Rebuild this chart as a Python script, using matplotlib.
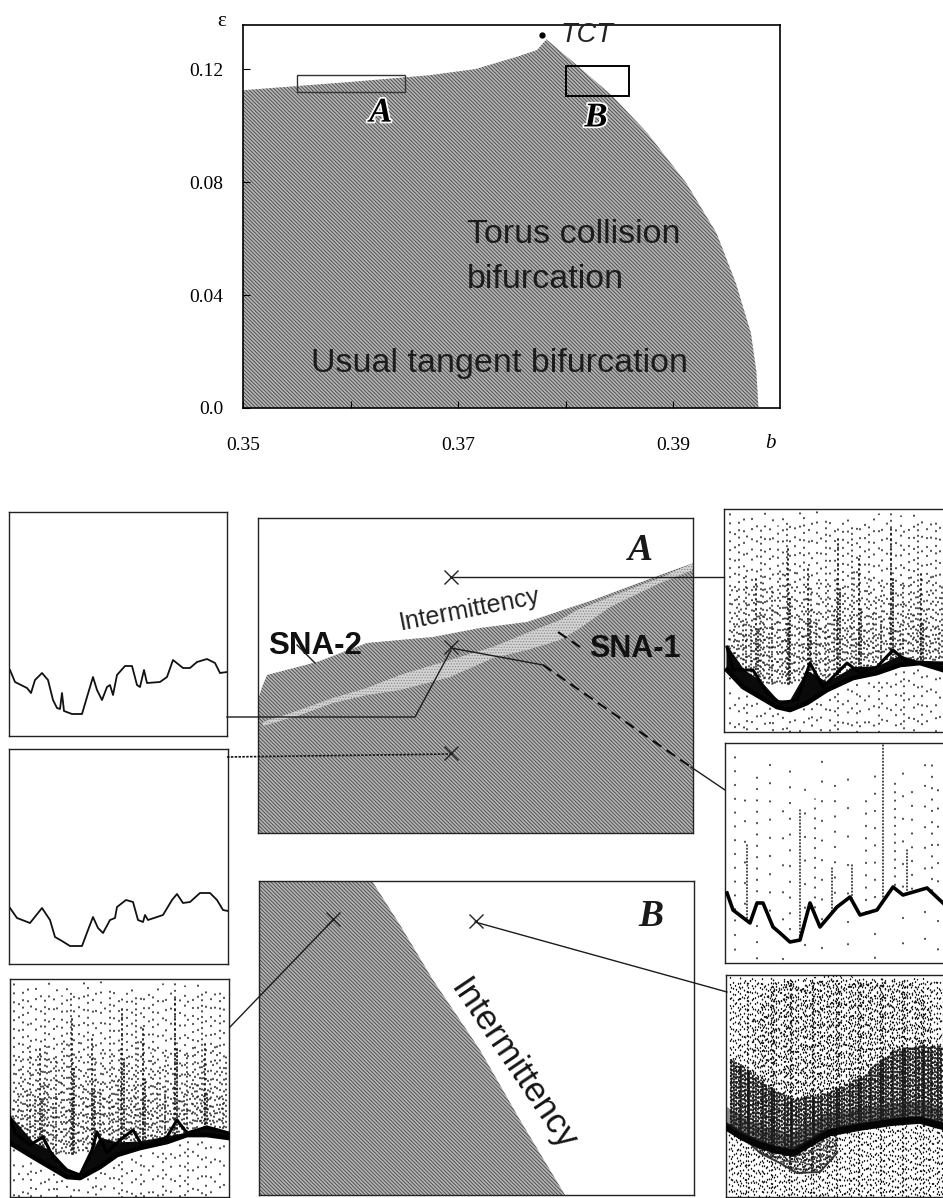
import numpy as np
import matplotlib
matplotlib.use("Agg")
import matplotlib.pyplot as plt
import matplotlib.patheffects as pe
from matplotlib.patches import Rectangle

plt.rcParams['font.family'] = ['Liberation Sans', 'DejaVu Sans']
plt.rcParams['hatch.linewidth'] = 0.6

W, H = 943, 1198

# top diagram: boundary of the grey region
bound_b = [.35, .3602, .3673, .3716, .3755, .3773, .3782, .3812, .3844, .3876, .3912, .3940, .3958, .3972, .3977, .3979]
bound_eps = [.1125, .1155, .1178, .1200, .1244, .1267, .1305, .1208, .1102, .0972, .0796, .0619, .0442, .0265, .0130, 0]
tct = (.3778, .1322)
rect_a = (.3550, .1119, .0101, .0060)
rect_b = (.3800, .1105, .0059, .0106)

# panel A (picture pixels)
a_top_x = [258, 262, 267, 317, 367, 433, 480, 527, 593, 660, 693]
a_top_y = [700, 687, 675, 662, 643, 637, 628, 622, 600, 575, 563]
a_light_x = [263, 300, 333, 367, 400, 450, 493, 527, 560, 577, 610, 660, 693]
a_light_hi = [722, 710, 698, 688, 675, 660, 647, 633, 620, 610, 597, 578, 563]
a_light_lo = [726, 715, 703, 695, 690, 677, 658, 650, 640, 630, 607, 583, 570]

# panel B
b_edge_x = [372, 400, 433, 480, 520, 565]
b_edge_y = [881, 925, 980, 1050, 1120, 1195]

# left curves
l1_x = [10, 15, 27, 31, 35, 42, 48, 53, 57, 60, 62, 64, 72, 82, 87, 93, 97, 102, 107, 110, 113, 117, 125, 132, 137, 140, 144, 147, 160, 167, 173, 183, 190, 197, 207, 215, 220, 227]
l1_y = [670, 682, 688, 693, 680, 673, 680, 700, 708, 709, 693, 711, 714, 714, 697, 677, 690, 700, 687, 685, 695, 675, 666, 666, 685, 687, 670, 683, 682, 677, 660, 668, 668, 662, 659, 663, 673, 672]
l2_x = [10, 17, 30, 42, 50, 55, 62, 70, 82, 88, 93, 98, 103, 110, 115, 117, 126, 133, 138, 143, 145, 148, 163, 172, 177, 183, 190, 200, 210, 217, 223, 228]
l2_y = [908, 918, 923, 908, 920, 937, 941, 946, 946, 930, 917, 928, 933, 920, 918, 907, 900, 902, 920, 922, 915, 920, 915, 900, 894, 903, 902, 893, 893, 900, 910, 911]
l3_lo_x = [10, 33, 50, 67, 80, 100, 117, 140, 167, 187, 207, 229]
l3_lo_y = [1143, 1157, 1167, 1177, 1178, 1167, 1155, 1148, 1142, 1135, 1135, 1138]
l3_hi_x = [10, 15, 30, 43, 53, 67, 80, 92, 97, 107, 120, 133, 143, 167, 177, 187, 207, 229]
l3_hi_y = [1117, 1133, 1145, 1137, 1157, 1170, 1175, 1150, 1132, 1153, 1140, 1130, 1147, 1137, 1120, 1133, 1127, 1133]

# right curves
r1_lo_x = [727, 743, 760, 777, 790, 807, 827, 853, 877, 900, 920, 943]
r1_lo_y = [670, 687, 697, 707, 710, 703, 690, 678, 673, 665, 663, 670]
r1_hi_x = [727, 733, 753, 767, 780, 797, 810, 823, 847, 860, 877, 893, 907, 943]
r1_hi_y = [647, 670, 670, 693, 703, 700, 663, 687, 663, 673, 667, 650, 662, 663]
r2_x = [727, 733, 750, 757, 763, 773, 780, 790, 800, 810, 820, 837, 850, 860, 877, 893, 903, 927, 943]
r2_y = [893, 910, 923, 903, 903, 927, 933, 942, 940, 903, 927, 907, 897, 915, 910, 887, 895, 888, 903]
r3_x = [727, 743, 760, 777, 793, 827, 860, 893, 920, 946]
r3_hi = [1057, 1067, 1080, 1092, 1100, 1093, 1077, 1050, 1045, 1047]
r3_lo = [1127, 1137, 1145, 1150, 1153, 1133, 1127, 1122, 1120, 1127]
r3_lobe_x = [743, 760, 780, 797, 820, 837]
r3_lobe_y = [1137, 1153, 1163, 1173, 1172, 1153]
r3_dome_x = [757, 770, 827, 910, 927]
r3_dome_y = [1013, 983, 975, 980, 1003]

# scatter stripes, offset from panel's left edge
stripe_off = [4, 9, 13, 18, 21, 26, 31, 35, 39, 44, 47, 52, 57, 61, 64, 69, 74, 78, 83, 86, 91, 95, 100, 104, 109, 112, 117, 122, 126, 131, 134, 139, 143, 148, 153, 156, 161, 165, 170, 175, 178, 183, 188, 192, 196, 201, 205, 210, 214]
stripe_gaps = [5.3, 8.1, 4.3, 7.1, 10.7, 6.1, 9.3, 3.7, 7.7, 5.9, 11.3, 4.7, 6.7, 3.1, 8.9]
stripe_start = [3, 11, 7, 1, 14, 5, 9, 17, 2, 12, 6, 15, 4, 10, 8, 13, 0]
dark_off = [30, 62, 82, 112, 133, 165, 195]
dark_top = [70, 40, 60, 30, 50, 20, 65]
r2_dark_x = [747, 800, 832, 852, 883, 907]
r2_dark_top = [845, 810, 868, 865, 745, 850]
r2_sparse_x = [735, 745, 757, 770, 783, 790, 805, 815, 822, 835, 848, 866, 875, 895, 903, 912, 925, 932, 938]
r3_shift = [0, 1.4, 2.8]

# leader lines and crosses, picture pixels
cross_x = [451, 451, 451, 333, 476]
cross_y = [577, 647, 753, 919, 921]
lead_solid = [([451, 724], [577, 577]), ([227, 415, 451], [717, 717, 650]),
              ([691, 725], [767, 790]), ([297, 315], [645, 663]),
              ([333, 230], [920, 1027]), ([475, 727], [922, 992]), ([451, 543], [648, 665])]
lead_dot = [([227, 451], [757, 754])]
lead_dash = [([543, 691], [665, 767]), ([558, 580], [632, 647])]

HATCH_FC = '#b4b4b4'
HATCH_EC = '#444444'
HATCH = '\\' * 9

fig = plt.figure(figsize=(W / 100, H / 100), dpi=100)


def panel(x0, x1, y0, y1):
    ax = fig.add_axes([x0 / W, 1 - y1 / H, (x1 - x0) / W, (y1 - y0) / H])
    ax.set_xlim(x0, x1)
    ax.set_ylim(y1, y0)
    ax.set_xticks([])
    ax.set_yticks([])
    for s in ax.spines.values():
        s.set_linewidth(1.0)
        s.set_color('#222222')
    return ax


def stipple(ax, x, y0, y1, gap, lw=1.1, off=0, z=1):
    ax.plot([x, x], [y0, y1], color='#151515', lw=lw, zorder=z,
            ls=(off, (0.55, gap)), dash_capstyle='round')


def scatter_panel(ax, x0, top, lo_x, lo_y, hi_x, hi_y, bottom):
    xs = [x0 + o for o in stripe_off]
    n, m = len(stripe_gaps), len(stripe_start)
    for i, x in enumerate(xs):
        g = stripe_gaps[i % n]
        stipple(ax, x, top + 2 + stripe_start[i % m], top + 175, g, off=i)
        stipple(ax, x + 2, top + 60 + 2 * stripe_start[(i + 5) % m], top + 175, stripe_gaps[(i + 4) % n] * 0.8, off=i + 2)
        stipple(ax, x - 1.5, top + 100 + 2 * stripe_start[(i + 9) % m], top + 175, stripe_gaps[(i + 8) % n] * 0.55, off=i + 1)
    for o, t in zip(dark_off, dark_top):
        stipple(ax, x0 + o, top + t, top + 175, 2.2, lw=1.3)
        stipple(ax, x0 + o + 2, top + t + 50, top + 175, 1.6, lw=1.2)
    ax.fill_between(lo_x, lo_y, bottom, color='white', zorder=2)
    ax.fill_between(lo_x, lo_y, np.interp(lo_x, hi_x, hi_y), color='#0a0a0a', lw=1.5, zorder=3)
    ax.plot(lo_x, lo_y, color='black', lw=3.4, zorder=3)
    ax.plot(hi_x, hi_y, color='black', lw=2.2, zorder=3)
    for i, x in enumerate(xs):
        y = np.interp(x, lo_x, lo_y) + 5
        stipple(ax, x, y, bottom, stripe_gaps[(i + 3) % n] * 1.3, off=i, z=4)


# top diagram
ax = fig.add_axes([243 / W, 1 - 408 / H, 537 / W, 383 / H])
ax.set_xlim(.35, .3999)
ax.set_ylim(0, .1356)
ax.fill_between(bound_b, bound_eps, 0, facecolor=HATCH_FC, edgecolor=HATCH_EC, hatch=HATCH, linewidth=0)
ax.plot(*tct, 'o', color='black', ms=3.5)
ax.text(.3795, .1320, 'TCT', style='italic', fontsize=19.5, va='center', color='#222222')
ax.add_patch(Rectangle(rect_a[:2], rect_a[2], rect_a[3], fill=False, ec='#333333', lw=1))
ax.add_patch(Rectangle(rect_b[:2], rect_b[2], rect_b[3], fill=False, ec='black', lw=1.4))
halo = [pe.withStroke(linewidth=2.5, foreground='white')]
serif = ['Liberation Serif', 'DejaVu Serif']
ax.text(.3628, .1044, 'A', family=serif, style='italic', weight='bold', fontsize=25, ha='center', va='center', path_effects=halo)
ax.text(.3828, .1027, 'B', family=serif, style='italic', weight='bold', fontsize=25, ha='center', va='center', path_effects=halo)
ax.text(.3708, .0615, 'Torus collision', fontsize=24.5, va='center', color='#1c1c1c')
ax.text(.3708, .0455, 'bifurcation', fontsize=24.5, va='center', color='#1c1c1c')
ax.text(.3563, .0158, 'Usual tangent bifurcation', fontsize=24.5, va='center', color='#1c1c1c')
ax.set_xticks([.35, .36, .37, .38, .39])
ax.set_xticklabels(['0.35', '', '0.37', '', '0.39'], family=serif, fontsize=14)
ax.set_yticks([0, .04, .08, .12])
ax.set_yticklabels(['0.0', '0.04', '0.08', '0.12'], family=serif, fontsize=14)
ax.tick_params(axis='x', direction='in', length=5, pad=21)
ax.tick_params(axis='y', direction='in', length=5, pad=14)
for s in ax.spines.values():
    s.set_linewidth(1.2)

# left column
for (x0, x1, y0, y1), cx, cy in [((9, 227, 512, 736), l1_x, l1_y), ((9, 228, 749, 964), l2_x, l2_y)]:
    a = panel(x0, x1, y0, y1)
    a.plot(cx, cy, color='#111111', lw=1.3)
a = panel(10, 229, 979, 1197)
scatter_panel(a, 10, 979, l3_lo_x, l3_lo_y, l3_hi_x, l3_hi_y, 1197)

# panel A
a = panel(258, 693, 518, 833)
a.fill_between(a_top_x, a_top_y, 833, facecolor=HATCH_FC, edgecolor=HATCH_EC, hatch=HATCH, linewidth=0)
a.fill_between(a_light_x, a_light_hi, a_light_lo, facecolor='#d4d4d4', edgecolor='#8a8a8a', hatch='.' * 6, linewidth=0)
a.text(640, 550, 'A', family=serif, style='italic', weight='bold', fontsize=27, ha='center', va='center', color='#1a1a1a')
a.text(268, 646, 'SNA-2', weight='bold', fontsize=22.5, va='center', color='#111111')
a.text(589, 649, 'SNA-1', weight='bold', fontsize=22, va='center', color='#111111')
a.text(470, 610, 'Intermittency', fontsize=18, rotation=11, rotation_mode='anchor', ha='center', va='center', color='#222222')

# panel B
a = panel(259, 694, 881, 1195)
a.fill_betweenx(b_edge_y, 259, b_edge_x, facecolor=HATCH_FC, edgecolor=HATCH_EC, hatch=HATCH, linewidth=0)
a.text(651, 917, 'B', family=serif, style='italic', weight='bold', fontsize=27, ha='center', va='center', color='#1a1a1a')
a.text(513, 1065, 'Intermittency', fontsize=25, rotation=-56, rotation_mode='anchor', ha='center', va='center', color='#151515')

# right column
a = panel(724, 946, 509, 732)
scatter_panel(a, 726, 509, r1_lo_x, r1_lo_y, r1_hi_x, r1_hi_y, 732)

a = panel(725, 946, 743, 963)
n = len(stripe_gaps)
for i, x in enumerate(r2_sparse_x):
    stipple(a, x, 748 + stripe_start[i % len(stripe_start)] * 3, 960, stripe_gaps[i % n] * 1.6, off=i)
for x, t in zip(r2_dark_x, r2_dark_top):
    stipple(a, x, t, 958, 1.6)
a.fill_between(r2_x, r2_y, 962, color='white', zorder=2)
a.plot(r2_x, r2_y, color='black', lw=2.6, zorder=3)
for i, x in enumerate(r2_sparse_x[::2]):
    stipple(a, x, np.interp(x, r2_x, r2_y) + 8, 961, 9 + i, off=i, z=4)

# dense panel: stippling built from the same stripes, heavier inside the band
a = panel(726, 946, 975, 1197)
xs = [726 + o + s for o in stripe_off for s in r3_shift]
for i, x in enumerate(xs):
    g = stripe_gaps[i % n]
    lo = np.interp(x, r3_x, r3_lo)
    hi = np.interp(x, r3_x, r3_hi)
    stipple(a, x, 977 + i % 7, lo, g * 0.85, off=i, lw=1.0)
    stipple(a, x + 0.7, hi, lo, g * 0.22, off=i + 3, lw=1.3)
    stipple(a, x - 0.7, lo, 1196, g * 0.85, off=i + 1, lw=1.0)
    if 750 < x < 930:
        stipple(a, x + 0.5, np.interp(x, r3_dome_x, r3_dome_y), hi, g * 1.3, off=i + 2, lw=1.0)
    if 743 < x < 837:
        stipple(a, x, lo, np.interp(x, r3_lobe_x, r3_lobe_y), g * 0.4, off=i, lw=1.1)
a.plot(r3_lobe_x, r3_lobe_y, color='#333333', lw=1.4, zorder=3)
a.plot(r3_x, r3_lo, color='#050505', lw=5.5, zorder=3)
a.plot(r3_x, np.array(r3_lo) - 11, color='#202020', lw=11, alpha=.5, zorder=3)

# overlay in picture pixels for leaders and stray labels
ov = fig.add_axes([0, 0, 1, 1], zorder=10)
ov.set_xlim(0, W)
ov.set_ylim(H, 0)
ov.axis('off')
ov.patch.set_alpha(0)
for xs, ys in lead_solid:
    ov.plot(xs, ys, color='#1c1c1c', lw=1.0)
for xs, ys in lead_dot:
    ov.plot(xs, ys, color='#111111', lw=1.2, ls=(0, (1.5, 0.8)))
for xs, ys in lead_dash:
    ov.plot(xs, ys, color='#0a0a0a', lw=1.5, ls=(0, (5, 3)))
ov.plot(cross_x, cross_y, 'x', color='#222222', ms=10, mew=1.0)
ov.text(222, 22, '\u03b5', family=serif, fontsize=15, ha='center', va='center')
ov.text(770, 444, 'b', family=serif, style='italic', fontsize=15, ha='center', va='center')

fig.savefig('out.png', dpi=100)
